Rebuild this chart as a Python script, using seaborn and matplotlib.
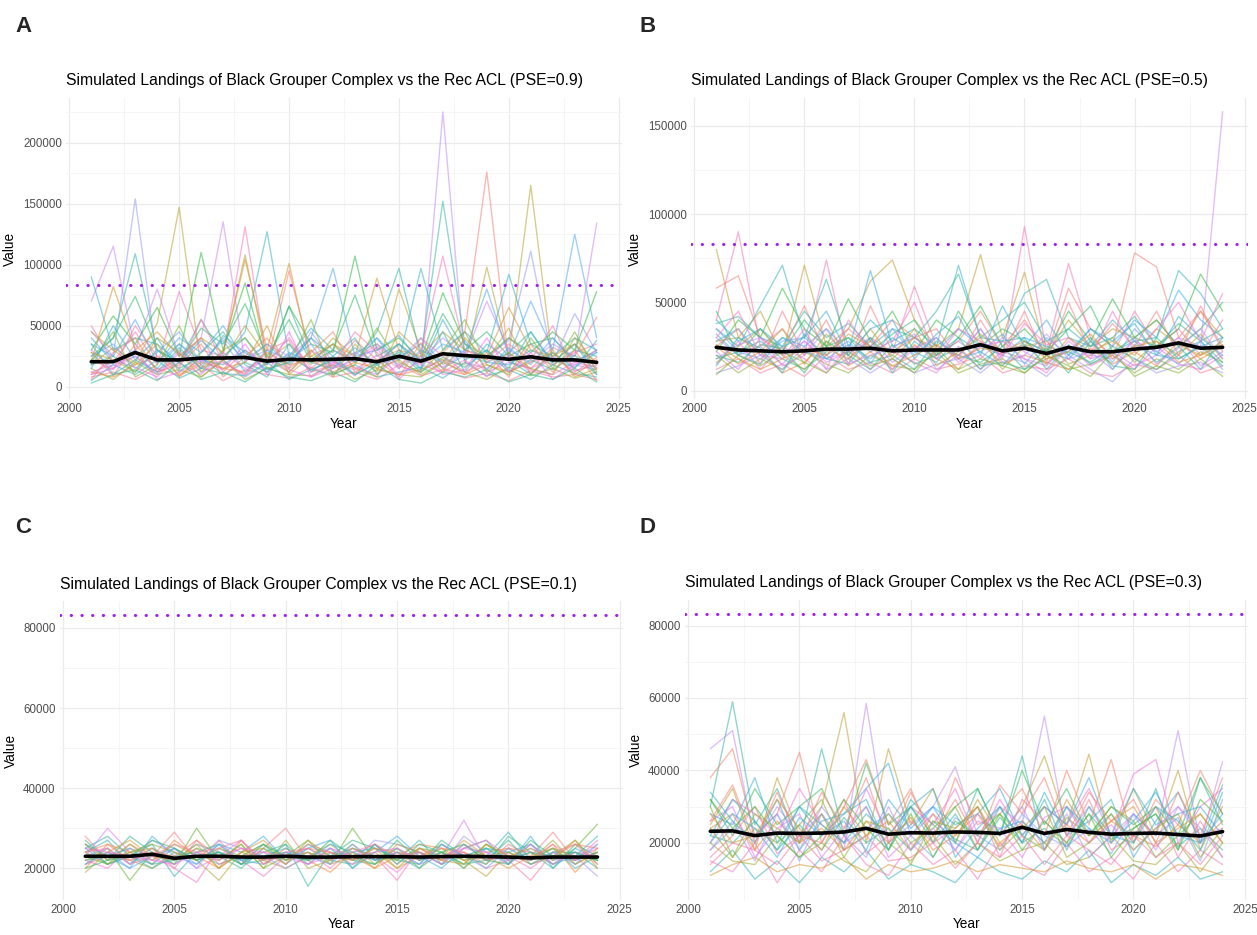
import numpy as np
import pandas as pd
import matplotlib
matplotlib.use("Agg")
import matplotlib.pyplot as plt
import seaborn as sns
from matplotlib.ticker import MultipleLocator, FuncFormatter

sns.set_theme(style="white")
plt.rcParams["font.family"] = ["Liberation Sans", "DejaVu Sans"]

years = list(range(2001, 2025))
acl = 83300  # Rec ACL

# ---------------- data (values in thousands of lbs) ----------------
sims_a = [
    [12,18,25,10,30,15,22,8,19,26,14,21,9,33,17,12,225,20,15,28,11,24,18,14],
    [28,9,35,14,22,40,12,30,18,95,25,16,38,22,30,19,28,45,176,20,15,32,25,57],
    [18,32,20,52,147,15,28,108,22,35,18,40,25,12,80,30,22,18,98,25,165,20,35,15],
    [45,25,154,20,35,18,40,22,30,15,45,20,28,35,22,40,18,30,25,38,111,20,60,28],
    [22,40,109,30,20,55,25,40,18,66,22,35,20,45,97,25,152,35,20,28,45,18,30,25],
    [70,115,30,80,25,40,135,20,35,25,40,15,28,20,35,22,40,25,70,30,20,35,25,134],
    [50,20,45,18,78,30,25,131,20,40,15,30,22,35,18,28,107,30,22,40,25,18,28,35],
    [90,30,40,35,20,38,22,45,127,25,48,30,20,40,22,97,30,45,28,92,35,25,40,30],
    [35,25,55,20,40,28,50,22,35,18,40,97,25,30,42,20,35,28,80,25,70,30,125,40],
    [30,58,35,65,25,110,30,85,20,66,35,28,107,30,40,22,77,35,25,40,28,45,30,78],
    [20,82,30,45,25,40,28,104,30,101,20,35,25,89,30,25,45,30,25,65,30,25,35,20],
    [25,40,74,30,20,48,35,68,25,55,20,30,75,25,35,20,60,30,45,25,35,40,20,30],
    [8,12,6,15,9,18,5,14,10,7,16,8,12,6,18,9,14,7,11,5,13,8,10,6],
    [15,6,20,10,14,8,22,6,15,10,9,18,6,14,10,8,20,12,6,16,9,15,7,12],
    [5,18,10,22,7,15,11,9,20,6,14,10,18,8,12,16,7,20,9,14,6,18,11,8],
    [30,15,25,12,20,10,28,15,22,12,30,18,14,26,10,22,16,28,12,20,15,24,13,18],
    [18,25,12,30,15,24,10,20,12,25,14,22,10,19,28,12,24,16,30,12,22,14,26,10],
    [10,22,16,8,28,12,20,10,25,14,8,20,16,10,25,18,12,22,8,26,14,10,20,16],
    [40,20,30,15,35,22,18,30,12,28,20,15,32,18,24,35,15,26,20,18,30,22,16,28],
    [12,8,18,25,10,20,15,12,28,18,22,12,20,15,10,14,22,10,18,12,20,28,10,22],
    [25,35,15,28,45,20,38,12,30,22,35,10,26,40,15,30,20,38,14,32,18,40,22,28],
    [6,28,40,12,18,35,8,25,40,15,28,45,12,22,8,36,15,10,28,8,35,12,30,5],
    [35,10,22,40,12,28,45,18,8,35,12,25,40,10,30,14,45,12,35,22,10,28,15,38],
    [20,45,8,18,50,12,30,40,15,20,55,10,18,48,20,12,30,55,18,10,40,15,45,12],
    [10,15,30,6,12,22,14,35,10,45,8,15,22,32,6,25,10,14,40,12,28,6,18,30],
    [45,30,18,35,8,25,15,20,50,10,25,35,15,8,45,28,12,40,22,48,10,30,8,15],
    [3,10,14,5,20,6,12,4,16,8,5,12,4,18,6,3,12,8,14,4,10,6,15,4],
    [22,14,50,25,15,55,20,10,30,38,12,18,45,28,15,40,25,12,20,35,22,50,12,24],
    [15,50,22,12,32,15,42,28,14,20,40,25,10,20,35,15,55,22,30,15,45,20,35,10],
    [28,22,12,40,28,8,22,50,25,12,30,8,35,15,22,10,20,45,12,28,15,10,40,18],
]
mean_a = [20.5,20.5,28,22,22,23.5,23.5,24,21,22.5,22,22.5,23,20.5,25,21,27,25.5,24.5,22.5,24.5,22,22,20]

sims_b = [
    [30,20,25,15,28,18,22,30,16,25,20,28,18,30,22,15,25,20,18,28,22,30,25,158],
    [40,90,25,35,20,74,18,30,22,59,25,20,35,18,93,22,72,30,20,45,25,35,20,40],
    [80,30,45,20,71,25,35,62,74,40,25,35,77,30,67,20,40,25,35,30,40,25,45,30],
    [58,65,30,22,48,20,35,25,40,30,20,28,45,25,40,20,58,35,25,78,70,30,45,25],
    [35,25,48,71,30,63,25,40,28,35,25,71,30,28,55,63,30,25,40,28,30,68,55,35],
    [22,40,30,58,35,25,52,28,45,22,40,30,48,25,35,22,45,28,52,30,25,35,66,45],
    [28,35,20,30,25,35,22,68,25,30,22,35,25,20,30,25,22,35,25,40,30,57,40,30],
    [38,42,30,25,45,30,38,25,35,30,45,66,30,40,50,28,35,25,30,42,25,38,28,35],
    [12,18,10,15,8,20,12,16,10,18,12,15,20,10,14,12,18,10,8,15,12,20,10,14],
    [20,10,18,12,22,15,10,20,14,12,22,10,15,18,10,20,12,15,20,10,18,12,22,16],
    [15,28,12,25,18,10,25,12,22,16,10,25,12,22,18,10,25,14,20,12,25,15,12,20],
    [25,15,22,10,16,28,14,22,12,26,18,12,28,15,20,16,12,24,15,22,14,28,18,25],
    [18,22,28,18,12,22,30,16,20,12,28,20,16,25,12,18,22,16,25,18,12,22,28,16],
    [32,20,15,30,22,18,26,18,30,22,16,30,22,14,28,22,18,30,12,26,20,18,25,30],
    [10,14,20,12,25,12,18,10,18,10,15,18,10,20,16,8,20,12,5,18,10,14,16,10],
    [28,30,22,35,15,32,20,35,18,30,24,20,32,22,26,15,30,22,28,20,35,26,20,28],
    [45,20,35,22,40,25,30,22,32,40,20,45,25,35,28,22,35,48,22,30,40,25,35,50],
    [22,12,30,20,28,16,22,28,12,24,30,16,25,28,18,14,28,18,22,14,20,30,14,22],
    [16,25,35,20,12,24,18,28,20,35,14,22,30,12,25,28,15,20,30,16,28,20,32,18],
    [35,22,18,28,30,20,28,15,35,20,30,18,22,32,15,30,20,28,16,35,22,15,28,12],
    [14,30,24,10,32,18,15,30,10,28,18,24,12,28,30,12,26,15,22,28,16,25,12,30],
    [25,35,15,45,20,40,15,48,22,30,35,18,40,20,45,16,50,22,38,25,45,20,48,22],
    [20,16,26,24,10,28,20,12,26,15,20,30,14,16,12,24,10,28,14,12,30,18,25,14],
    [30,45,20,18,35,12,40,22,28,50,18,35,28,20,38,26,30,18,45,22,35,50,28,55],
    [9,20,14,22,16,10,22,14,18,10,24,12,18,14,10,20,14,8,22,8,14,10,18,8],
    [40,28,35,25,30,45,20,35,40,18,32,42,20,48,25,40,20,35,28,38,20,42,30,20],
    [26,18,12,18,24,20,32,25,14,20,26,18,24,22,28,18,22,32,18,25,28,16,20,26],
    [18,26,30,14,20,35,15,20,24,32,12,20,35,16,20,32,18,22,12,30,15,24,35,18],
]
mean_b = [24.5,23,22.5,22,22.5,23.5,23.5,24,22.5,23,23,23,26,22.5,24,21,24.5,22,22,23.5,24.5,27,24,24.5]

sims_c = [
    [23,30,24,22,25,20,23,27,22,24,21,23,25,22,24,21,23,32,22,24,21,23,22,26],
    [28,22,26,23,29,22,27,21,25,30,22,24,23,26,21,25,22,24,21,26,23,29,22,24],
    [21,25,17,24,21,30,22,26,20,23,27,21,30,22,25,20,24,21,26,22,24,21,25,31],
    [25,21,23,26,18,24,21,23,26,21,25,22,21,26,22,27,21,26,23,29,22,25,20,23],
    [19,24,22,20,24,22,17,24,22,20,23,26,22,24,20,23,26,22,18,24,21,23,27,21],
    [24,27,21,25,22,26,24,21,24,26,15.5,24,22,21,25,22,24,20,25,21,26,22,24,20],
    [22,20,25,23,20,16.5,25,22,18,23,24,20,25,23,19,24,22,26,22,23,20,24,22,27],
    [26,23,20,28,23,21,26,24,28,22,25,27,20,24,28,23,20,25,27,21,28,20,25,22],
    [20,26,24,21,27,23,20,27,21,25,22,19,24,20,23,26,25,22,24,25,22,26,19,25],
    [27,22,28,24,21,25,23,20,25,22,26,23,27,25,22,21,27,23,21,28,24,20,26,23],
    [23,25,21,27,24,20,27,25,23,20,23,25,22,27,26,24,21,28,24,21,25,22,23,18],
    [24,21,26,22,26,23,22,26,20,27,20,22,26,21,24,22,25,20,26,23,22,27,21,24],
    [21,23,22,25,20,27,21,23,24,21,26,24,21,23,17,25,23,24,20,22,17,24,26,21],
    [25,28,23,21,25,22,24,22,23,25,22,26,24,25,23,20,26,23,25,24,26,21,23,28],
    [22,24,27,23,22,25,20,24,27,22,24,21,23,20,26,24,22,27,23,20,23,25,21,24],
    [26,21,23,20,23,24,26,21,22,26,21,25,20,26,21,26,24,21,22,27,21,24,24,22],
    [24,26,22,24,23,27,23,25,22,23,25,24,22,25,24,23,25,24,22,25,24,23,26,25],
    [22,23,25,21,22,23,24,22,23,24,22,23,24,22,23,24,21,23,25,22,24,23,22,24],
    [23,21,24,26,24,22,25,23,26,22,24,22,25,23,22,25,24,22,23,24,22,25,23,22],
    [25,24,23,22,21,24,22,25,24,23,21,25,23,24,25,22,23,25,24,22,26,21,24,23],
    [21,24,20,23,25,21,26,22,21,24,23,21,26,22,24,21,26,23,20,25,22,24,21,26],
    [26,22,24,25,22,26,20,24,25,21,27,23,22,25,20,25,22,21,26,23,25,22,27,20],
    [20,22,23,27,25,22,24,21,26,23,22,27,23,21,27,22,24,26,22,21,27,23,24,22],
    [24,25,21,23,26,24,25,27,21,24,25,22,24,26,23,24,21,25,27,23,22,26,22,25],
]
mean_c = [23,23,23,23.5,22.5,23,23,22.8,22.8,23,22.8,22.8,22.9,22.9,22.9,22.8,22.9,23,22.9,22.8,22.6,22.8,22.8,22.8]

sims_d = [
    [30,59,25,35,20,46,22,30,18,32,25,20,35,22,44,18,30,22,28,20,35,18,38,25],
    [46,51,20,30,22,28,18,58.5,20,25,30,41,22,30,25,55,22,30,20,28,22,51,20,42.5],
    [25,35,18,38,22,30,56,20,46,25,35,20,32,22,30,44,25,44.5,20,35,22,40,18,30],
    [38,46,22,28,45,20,30,43,25,35,20,38,25,28,35,22,40,25,43,20,32,25,40,28],
    [20,32,28,22,35,25,20,35,22,30,25,35,20,32,22,30,25,35,22,39,43,20,30,35],
    [32,22,35,25,30,35,22,42,25,30,22,30,35,22,40,25,35,22,30,25,30,22,38,28],
    [28,25,38,20,30,22,28,35,42,22,30,25,28,35,22,30,25,38,22,35,25,28,30,22],
    [12,18,10,15,9,16,12,18,10,14,12,9,16,12,10,15,12,18,9,14,11,16,10,12],
    [15,12,20,9,18,12,22,14,11,20,14,18,10,20,14,11,20,12,16,10,20,12,18,14],
    [20,15,14,22,16,20,15,12,20,15,22,14,20,15,18,20,14,16,22,15,14,20,12,20],
    [24,28,18,26,20,24,18,26,20,27,18,22,28,19,26,20,25,20,26,22,19,25,20,26],
    [22,20,26,18,25,18,27,20,24,18,26,21,18,27,20,24,19,28,21,24,28,19,24,18],
    [18,24,22,28,15,28,20,24,28,22,16,27,22,18,28,22,19,24,17,28,22,27,15,32],
    [26,30,16,24,28,16,24,30,16,22,28,18,26,24,16,27,30,20,25,18,24,30,22,24],
    [30,16,24,20,25,32,18,22,28,20,24,30,18,28,22,18,27,22,30,26,16,22,28,20],
    [16,22,30,17,22,20,32,17,22,26,20,24,30,16,32,26,20,32,18,22,30,16,26,16],
    [34,26,20,32,18,26,28,32,18,30,35,16,24,30,20,34,22,26,32,16,26,34,20,36],
    [11,14,16,12,14,13,16,10,14,12,13,15,12,14,13,12,15,13,12,14,10,14,13,11],
    [28,20,22,32,24,18,30,22,26,18,28,22,30,20,25,18,32,22,26,30,20,24,28,20],
    [22,32,26,18,30,25,20,28,22,30,20,28,18,30,20,32,18,30,22,20,30,26,18,34],
    [18,26,15,28,18,30,22,16,30,18,24,18,28,22,30,18,28,16,22,28,18,30,24,16],
    [32,24,30,22,16,22,32,24,18,28,16,26,22,28,18,26,20,28,16,24,28,18,32,26],
    [14,20,18,14,22,15,18,22,15,16,20,13,20,16,22,14,22,18,14,22,16,20,14,22],
    [26,36,20,34,20,34,24,38,20,34,22,32,20,36,28,38,22,34,26,32,20,34,22,38],
    [20,28,24,16,27,22,26,18,32,24,30,20,16,24,26,20,30,24,20,26,34,22,20,28],
    [24,16,28,24,20,28,16,26,24,14,26,24,30,18,24,30,16,20,28,18,24,28,16,24],
]
mean_d = [23.2,23.3,22,22.7,22.6,22.7,23,24,22.4,22.8,22.7,23,22.9,22.6,24.3,22.6,23.7,22.9,22.4,22.6,22.7,22.3,21.9,23.1]

titles = {
    "A": "Simulated Landings of Black Grouper Complex vs the Rec ACL (PSE=0.9)",
    "B": "Simulated Landings of Black Grouper Complex vs the Rec ACL (PSE=0.5)",
    "C": "Simulated Landings of Black Grouper Complex vs the Rec ACL (PSE=0.1)",
    "D": "Simulated Landings of Black Grouper Complex vs the Rec ACL (PSE=0.3)",
}

# ---------------- styling ----------------
hues = {
    "A": [285,15,70,265,180,290,340,215,245,130,50,140,0,100,200,300,160,320,230,30,
          250,20,190,110,310,60,150,350,210,80],
    "B": [290,345,65,15,200,130,240,180,0,100,320,30,160,220,270,60,140,300,
          80,250,190,10,150,330,110,230,40,280],
    "C": [300,10,120,200,70,180,330,240,30,150,270,90,350,210,50,160,
          20,190,110,310,250,60,140,350],
    "D": [175,285,65,20,320,135,235,200,340,90,30,160,260,300,110,0,220,50,
          45,190,275,125,350,15,240,95],
}

panels = [
    ("A", sims_a, mean_a, [0.0525, 0.5733, 0.4423, 0.3219], (-10000, 236500), 50000, 25000),
    ("B", sims_b, mean_b, [0.5497, 0.5733, 0.4431, 0.3219], (-4750, 165750), 50000, 25000),
    ("C", sims_c, mean_c, [0.0475, 0.0375, 0.4482, 0.3197], (12100, 86700), 20000, 10000),
    ("D", sims_d, mean_d, [0.5447, 0.0375, 0.4483, 0.3208], (4235, 87065), 20000, 10000),
]

fig = plt.figure(figsize=(12.57, 9.35), dpi=100)
fig.patch.set_facecolor("white")

label_pos = {"A": (0.012, 0.972), "B": (0.509, 0.972), "C": (0.012, 0.436), "D": (0.509, 0.436)}

for key, sims, mean, rect, ylim, major, minor in panels:
    ax = fig.add_axes(rect)
    rows = []
    for i, s in enumerate(sims):
        for y, v in zip(years, s):
            rows.append({"Year": y, "Value": v * 1000, "sim": f"s{i}"})
    df = pd.DataFrame(rows)
    pal = {f"s{i}": sns.husl_palette(1, h=h / 360.0, s=0.9, l=0.68)[0]
           for i, h in enumerate(hues[key])}
    sns.lineplot(data=df, x="Year", y="Value", hue="sim", palette=pal,
                 estimator=None, legend=False, alpha=0.55, linewidth=1.0, ax=ax)
    mdf = pd.DataFrame({"Year": years, "Value": [m * 1000 for m in mean]})
    sns.lineplot(data=mdf, x="Year", y="Value", color="black", linewidth=2.6, ax=ax)
    ax.axhline(acl, color="#A020F0", linestyle=(0, (0.1, 3.4)), linewidth=2.2,
               dash_capstyle="round")

    ax.set_xlim(1999.85, 2025.15)
    ax.set_ylim(*ylim)
    ax.xaxis.set_major_locator(MultipleLocator(5))
    ax.xaxis.set_minor_locator(MultipleLocator(2.5))
    ax.yaxis.set_major_locator(MultipleLocator(major))
    ax.yaxis.set_minor_locator(MultipleLocator(minor))
    ax.yaxis.set_major_formatter(FuncFormatter(lambda v, p: f"{int(round(v))}"))
    ax.grid(which="major", color="#EBEBEB", linewidth=0.9)
    ax.grid(which="minor", color="#F4F4F4", linewidth=0.6)
    ax.set_axisbelow(True)
    for sp in ax.spines.values():
        sp.set_visible(False)
    ax.tick_params(which="both", length=0, labelsize=8.3, labelcolor="#4D4D4D", pad=3)
    ax.set_xlabel("Year", fontsize=9.8, color="black", labelpad=1)
    ax.set_ylabel("Value", fontsize=9.8, color="black", labelpad=4)
    ax.set_title(titles[key], loc="left", fontsize=11.3, color="black", pad=9)
    lx, ly = label_pos[key]
    fig.text(lx, ly, key, fontsize=16, fontweight="bold", ha="left", va="center")

fig.savefig("out.png", dpi=100, facecolor="white")
